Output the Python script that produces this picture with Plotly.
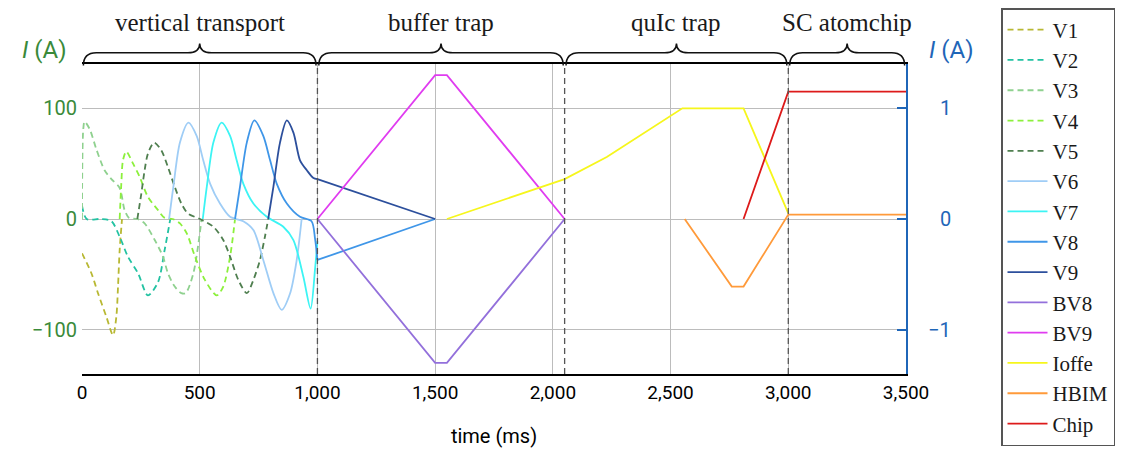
import plotly.graph_objects as go

# ---------------- data (time in ms, current) ----------------
# vertical transport coils (left axis, A)
v1_t = [0, 40, 68, 103, 132, 146, 153, 160, 170]
v1_i = [-31, -49, -67, -88, -105, -88, -61, -28, 0]

v2_t = [0, 20, 80, 125, 160, 195, 238, 280, 323, 351, 375]
v2_i = [12, 0, 0, -2, -16, -34, -49, -69, -57, -28, 0]

v3_t = [0, 5, 11, 33, 61, 96, 125, 160, 181, 200, 235, 266, 309, 344, 365, 394, 422, 440, 473, 508]
v3_i = [0, 80, 88, 81, 63, 44, 36, 28, 8, 1, 0, -4, -19, -34, -49, -61, -67, -67, -49, 0]

v4_t = [160, 167, 174, 188, 217, 245, 280, 323, 351, 385, 416, 445, 480, 522, 572, 600, 629, 650]
v4_i = [0, 32, 53, 61, 50, 38, 20, 8, 1, 0, -4, -13, -34, -55, -69, -61, -34, 0]

v5_t = [235, 252, 266, 280, 306, 337, 365, 394, 422, 450, 501, 558, 600, 629, 664, 700, 728, 756, 777, 791]
v5_i = [0, 23, 44, 59, 69, 62, 47, 29, 14, 5, 0, -7, -19, -34, -55, -67, -55, -37, -16, 0]

v6_t = [370, 388, 416, 452, 487, 515, 544, 586, 629, 685, 728, 770, 813, 848, 884, 912, 933]
v6_i = [0, 29, 69, 87, 75, 53, 32, 14, 2, -2, -10, -37, -67, -82, -67, -37, 0]

v7_t = [513, 530, 558, 593, 629, 657, 685, 728, 785, 855, 898, 940, 971, 990, 1000]
v7_i = [0, 29, 69, 87, 75, 53, 32, 14, 2, -7, -19, -52, -81, -45, -20]

v8_t = [650, 671, 700, 732, 770, 799, 827, 870, 926, 975, 990, 1000, 1500]
v8_i = [0, 29, 69, 89, 75, 53, 32, 14, 2, -2, -18, -37, 0]

v9_t = [791, 813, 841, 870, 898, 926, 955, 983, 1000, 1500]
v9_i = [0, 29, 69, 89, 78, 53, 44, 37, 36, 0]

# later stages (right axis)
bv8_t = [1000, 1500, 1550, 2050]
bv8_i = [0, -1.30, -1.30, 0]
bv9_t = [1000, 1500, 1550, 2050]
bv9_i = [0, 1.30, 1.30, 0]
ioffe_t = [1550, 2050, 2229, 2550, 2810, 3000]
ioffe_i = [0, 0.36, 0.56, 1.0, 1.0, 0.05]
hbim_t = [2560, 2760, 2810, 3000, 3500]
hbim_i = [0, -0.61, -0.61, 0.04, 0.04]
chip_t = [2810, 3000, 3500]
chip_i = [0, 1.15, 1.15]

phase_bounds = [0, 1000, 2050, 3000, 3500]
phase_names = ["vertical transport", "buffer trap", "quIc trap", "SC atomchip"]
x_ticks = [0, 500, 1000, 1500, 2000, 2500, 3000, 3500]
left_ticks = [-100, 0, 100]
right_ticks = [-1, 0, 1]

# ---------------- styling ----------------
GREEN = "#3a8a3a"
BLUE = "#1f66b8"
GRID = "#bcbcbc"
SERIF = "Liberation Serif, Times New Roman, serif"
SANS = "Roboto, Open Sans, sans-serif"

series = [
    ("V1", v1_t, v1_i, "#b8b833", "dash", "y"),
    ("V2", v2_t, v2_i, "#22c2a2", "dash", "y"),
    ("V3", v3_t, v3_i, "#8fd18f", "dash", "y"),
    ("V4", v4_t, v4_i, "#8cf03c", "dash", "y"),
    ("V5", v5_t, v5_i, "#4f7f4f", "dash", "y"),
    ("V6", v6_t, v6_i, "#9fcdf6", "solid", "y"),
    ("V7", v7_t, v7_i, "#3cf4f4", "solid", "y"),
    ("V8", v8_t, v8_i, "#3f96e8", "solid", "y"),
    ("V9", v9_t, v9_i, "#2c4f9c", "solid", "y"),
    ("BV8", bv8_t, bv8_i, "#9370db", "solid", "y2"),
    ("BV9", bv9_t, bv9_i, "#e03cf0", "solid", "y2"),
    ("Ioffe", ioffe_t, ioffe_i, "#f6f61c", "solid", "y2"),
    ("HBIM", hbim_t, hbim_i, "#ff9a3a", "solid", "y2"),
    ("Chip", chip_t, chip_i, "#dd1a1a", "solid", "y2"),
]

transport_end = phase_bounds[1]

fig = go.Figure()
for name, t, i, col, dash, ax in series:
    line = dict(color=col, width=1.8, dash=("6px,4px" if dash == "dash" else "solid"))
    if name.startswith("V"):
        # smooth part during the transport, straight ramp afterwards
        n = sum(1 for tt in t if tt <= transport_end)
        fig.add_trace(go.Scatter(
            x=t[:n], y=i[:n], name=name, mode="lines", yaxis=ax, legendgroup=name,
            line=dict(line, shape="spline", smoothing=0.8)))
        if n < len(t):
            fig.add_trace(go.Scatter(
                x=t[n - 1:], y=i[n - 1:], name=name, mode="lines", yaxis=ax,
                legendgroup=name, showlegend=False, line=dict(line, shape="linear")))
    else:
        fig.add_trace(go.Scatter(
            x=t, y=i, name=name, mode="lines", yaxis=ax, legendgroup=name,
            line=dict(line, shape="linear")))

# phase separators (dashed)
for b in phase_bounds[1:-1]:
    fig.add_shape(type="line", xref="x", yref="paper", x0=b, x1=b, y0=0, y1=1,
                  line=dict(color="#555555", width=1.3, dash="6px,4px"), layer="above")

# braces above the plot
yb, yh, yt = 0.995, 1.036, 1.066
r_end, r_mid = 55, 50
for k, name in enumerate(phase_names):
    x0 = phase_bounds[k] + 6
    x1 = phase_bounds[k + 1] - 6
    xm = (phase_bounds[k] + phase_bounds[k + 1]) / 2
    path = (f"M {x0},{yb} Q {x0},{yh} {x0 + r_end},{yh} L {xm - r_mid},{yh} "
            f"Q {xm},{yh} {xm},{yt} Q {xm},{yh} {xm + r_mid},{yh} "
            f"L {x1 - r_end},{yh} Q {x1},{yh} {x1},{yb}")
    fig.add_shape(type="path", xref="x", yref="paper", path=path,
                  line=dict(color="#111111", width=1.5))
    fig.add_annotation(x=xm, y=1.1806, xref="x", yref="paper", text=name,
                       showarrow=False, borderpad=0,
                       font=dict(family=SERIF, size=25, color="#1a1a1a"),
                       xanchor="center", yanchor="top")

# axis titles at the top of each y axis
fig.add_annotation(x=-0.045, y=1.045, xref="paper", yref="paper", text="<i>I</i> (A)",
                   showarrow=False, xanchor="center", yanchor="middle",
                   font=dict(family=SANS, size=24, color=GREEN))
fig.add_annotation(x=1.0555, y=1.045, xref="paper", yref="paper", text="<i>I</i> (A)",
                   showarrow=False, xanchor="center", yanchor="middle",
                   font=dict(family=SANS, size=24, color=BLUE))

# right-axis tick labels (right-aligned like the reference)
for v in right_ticks:
    lab = ("\u2212" + str(abs(v))) if v < 0 else str(v)
    fig.add_annotation(x=1.0565, y=v, xref="paper", yref="y2", text=lab,
                       showarrow=False, xanchor="right", yanchor="middle",
                       font=dict(family=SANS, size=20, color=BLUE))

# the page body adds an 8px offset, so the figure is 8px smaller and margins shifted
fig.update_layout(
    width=1117, height=450,
    margin=dict(l=74, r=219, t=56, b=84, autoexpand=False),
    paper_bgcolor="white", plot_bgcolor="white",
    showlegend=True,
    legend=dict(x=1.1153, y=1.0, xref="paper", yref="container",
                xanchor="left", yanchor="top", maxheight=450,
                bgcolor="white", bordercolor="#555555", borderwidth=1.5,
                font=dict(family=SERIF, size=21, color="#1a1a1a"),
                itemwidth=40, tracegroupgap=0),
    xaxis=dict(range=[0, 3500], tickvals=x_ticks, tickformat=",d", automargin=False,
               showgrid=True, gridcolor=GRID, gridwidth=1.2,
               showline=True, linecolor="black", linewidth=1.5, mirror=True,
               ticks="", zeroline=False,
               tickfont=dict(family=SANS, size=19, color="black"),
               title=dict(text="time (ms)", font=dict(family=SANS, size=20, color="black"),
                          standoff=26)),
    yaxis=dict(range=[-140, 140], tickvals=left_ticks, showgrid=True, gridcolor=GRID,
               gridwidth=1.2, zeroline=False, showline=False, ticks="", automargin=False,
               ticklabelstandoff=4,
               tickfont=dict(family=SANS, size=20, color=GREEN)),
    yaxis2=dict(range=[-1.4, 1.4], tickvals=right_ticks, overlaying="y", side="right",
                showgrid=False, zeroline=False, showline=True, linecolor=BLUE, linewidth=1.5,
                ticks="inside", ticklen=9, tickwidth=1.5, tickcolor=BLUE,
                showticklabels=False, automargin=False),
)

fig.write_html("out.html")
